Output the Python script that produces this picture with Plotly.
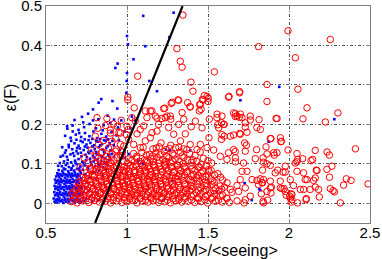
import plotly.graph_objects as go

# blue points (x, y)
blue_pts = [
    (0.553,0.004),(0.571,0.002),(0.589,0.005),(0.607,0.001),(0.624,0.004),(0.642,0.003),(0.661,0.006),(0.679,0.002),(0.698,0.004),(0.716,0.003),(0.735,0.005),
    (0.548,0.012),(0.566,0.010),(0.583,0.013),(0.601,0.009),(0.619,0.012),(0.637,0.011),(0.655,0.014),(0.673,0.010),(0.691,0.012),(0.709,0.009),(0.727,0.013),
    (0.556,0.020),(0.574,0.018),(0.592,0.021),(0.610,0.017),(0.628,0.020),(0.646,0.019),(0.664,0.022),(0.682,0.018),(0.700,0.020),(0.719,0.021),
    (0.551,0.028),(0.569,0.026),(0.587,0.029),(0.605,0.025),(0.623,0.028),(0.641,0.027),(0.659,0.030),(0.677,0.026),(0.695,0.028),(0.713,0.025),(0.731,0.029),
    (0.558,0.036),(0.576,0.034),(0.594,0.037),(0.612,0.033),(0.630,0.036),(0.648,0.035),(0.666,0.038),(0.684,0.034),(0.702,0.036),(0.720,0.037),
    (0.553,0.044),(0.571,0.042),(0.589,0.045),(0.607,0.041),(0.625,0.044),(0.643,0.043),(0.661,0.046),(0.679,0.042),(0.697,0.044),(0.715,0.041),
    (0.560,0.052),(0.578,0.050),(0.596,0.053),(0.614,0.049),(0.632,0.052),(0.650,0.051),(0.668,0.054),(0.686,0.050),(0.704,0.052),
    (0.556,0.060),(0.574,0.058),(0.592,0.061),(0.610,0.057),(0.628,0.060),(0.646,0.059),(0.664,0.062),(0.682,0.058),(0.700,0.060),(0.718,0.063),
    (0.563,0.068),(0.581,0.066),(0.599,0.069),(0.617,0.065),(0.635,0.068),(0.653,0.067),(0.671,0.070),(0.689,0.066),(0.707,0.069),
    (0.570,0.076),(0.588,0.074),(0.606,0.077),(0.624,0.073),(0.642,0.076),(0.660,0.075),(0.678,0.078),(0.696,0.074),(0.714,0.077),
    (0.578,0.084),(0.601,0.082),(0.619,0.086),(0.637,0.081),(0.655,0.085),(0.673,0.083),(0.691,0.087),(0.709,0.082),(0.727,0.085),
    (0.562,0.007),(0.580,0.008),(0.598,0.006),(0.616,0.008),(0.634,0.007),(0.652,0.009),(0.670,0.007),(0.688,0.008),(0.706,0.006),
    (0.565,0.023),(0.583,0.024),(0.601,0.022),(0.619,0.024),(0.637,0.023),(0.655,0.025),(0.673,0.023),(0.691,0.024),(0.709,0.022),
    (0.562,0.039),(0.580,0.040),(0.598,0.039),(0.616,0.041),(0.634,0.039),(0.652,0.040),(0.670,0.042),(0.688,0.039),(0.706,0.040),
    (0.567,0.056),(0.585,0.055),(0.603,0.057),(0.621,0.055),(0.639,0.056),(0.657,0.054),(0.675,0.056),(0.693,0.055),
    (0.574,0.072),(0.592,0.071),(0.610,0.073),(0.628,0.071),(0.646,0.072),(0.664,0.070),(0.682,0.072),(0.700,0.071),
    (0.598,0.094),(0.622,0.097),(0.641,0.092),(0.668,0.095),(0.689,0.099),(0.712,0.093),(0.738,0.096),(0.757,0.091),(0.781,0.098),(0.803,0.094),(0.829,0.097),(0.852,0.092),(0.874,0.099),
    (0.611,0.106),(0.634,0.110),(0.655,0.104),(0.679,0.108),(0.701,0.112),(0.724,0.105),(0.747,0.109),(0.772,0.113),(0.795,0.106),(0.818,0.111),(0.841,0.107),(0.866,0.114),(0.889,0.109),
    (0.605,0.121),(0.629,0.118),(0.651,0.124),(0.674,0.120),(0.697,0.126),(0.719,0.119),(0.744,0.123),(0.766,0.127),(0.790,0.121),(0.812,0.125),(0.838,0.120),(0.861,0.128),(0.884,0.123),
    (0.623,0.134),(0.662,0.137),(0.688,0.132),(0.709,0.139),(0.733,0.135),(0.756,0.141),(0.778,0.133),(0.801,0.138),(0.826,0.142),(0.849,0.136),(0.872,0.140),(0.898,0.134),
    (0.640,0.148),(0.676,0.152),(0.701,0.146),(0.727,0.155),(0.750,0.149),(0.774,0.153),(0.797,0.147),(0.822,0.156),(0.846,0.150),(0.869,0.158),(0.893,0.152),(0.918,0.147),
    (0.585,0.102),(0.610,0.088),(0.632,0.101),(0.658,0.089),(0.682,0.103),(0.705,0.088),(0.731,0.102),(0.752,0.117),(0.776,0.104),(0.800,0.116),
    (0.822,0.102),(0.847,0.118),(0.868,0.104),(0.893,0.118),(0.617,0.128),(0.641,0.142),(0.667,0.127),(0.692,0.140),(0.716,0.128),(0.740,0.144),
    (0.762,0.130),(0.786,0.144),(0.810,0.130),(0.834,0.147),(0.858,0.131),(0.882,0.145),(0.905,0.125),(0.655,0.158),(0.688,0.161),(0.714,0.158),
    (0.739,0.162),(0.763,0.160),(0.786,0.163),(0.810,0.158),(0.834,0.163),(0.858,0.160),(0.882,0.162),(0.910,0.158),(0.600,0.142),(0.590,0.118),
    (0.575,0.095),(0.705,0.178),(0.730,0.205),(0.790,0.210),(0.850,0.185),(0.920,0.212),(0.665,0.182),(0.950,0.160),(0.955,0.135),(0.920,0.118),
    (0.745,0.012),(0.762,0.031),(0.779,0.018),(0.797,0.044),(0.814,0.027),(0.751,0.052),(0.772,0.065),(0.791,0.078),(0.808,0.061),(0.826,0.083),
    (0.743,0.074),(0.760,0.088),(0.835,0.049),(0.852,0.071),(0.869,0.086),(0.748,0.038),(0.786,0.006),(0.823,0.009),
    (0.618,0.171),(0.652,0.166),(0.684,0.174),(0.717,0.168),(0.741,0.178),(0.768,0.170),(0.793,0.182),(0.815,0.165),(0.842,0.176),(0.871,0.169),
    (0.905,0.181),(0.935,0.172),(0.632,0.189),(0.664,0.197),(0.701,0.186),(0.735,0.193),(0.769,0.201),(0.808,0.190),(0.856,0.198),(0.897,0.204),
    (0.944,0.192),(0.630,0.195),(0.676,0.211),(0.722,0.219),(0.760,0.227),(0.823,0.213),(0.881,0.222),(0.965,0.210),(0.985,0.182),
    (0.790,0.238),(0.825,0.255),(0.841,0.264),(0.910,0.259),(0.940,0.240),(0.928,0.343),(0.942,0.354),(1.000,0.424),(1.006,0.403),(1.040,0.365),
    (1.100,0.475),(1.113,0.398),(1.000,0.330),(0.998,0.310),(0.996,0.280),(1.138,0.310),(1.185,0.284),(1.288,0.483),(1.261,0.421),(1.700,0.261),
    (1.940,0.295),(1.874,0.156),(2.280,0.213),(1.816,0.036),(1.770,0.008),(1.555,0.029),(1.263,0.134),(1.390,0.134),(1.823,0.033),(1.030,0.220),
    (1.090,0.102),(1.100,0.100),(1.070,0.108),(1.240,0.136),(1.278,0.056),(1.225,0.008),(0.985,0.115),(1.010,0.125),(1.050,0.210),(1.020,0.190),
    (1.726,0.051),
]

# red circles (x, y)
red_pts = [
    (0.655,0.004),(0.692,0.001),(0.728,0.006),(0.764,0.002),(0.797,0.007),(0.831,0.003),(0.866,0.005),(0.899,0.001),(0.934,0.006),(0.968,0.002),
    (1.001,0.004),(1.034,0.007),(1.062,0.001),(1.097,0.005),(1.129,0.003),(1.161,0.006),(1.196,0.002),(1.232,0.004),(1.268,0.001),(1.301,0.006),
    (1.338,0.003),(1.376,0.005),(1.418,0.002),(1.457,0.004),(1.498,0.001),(1.546,0.005),(1.588,0.003),(1.632,0.002),(1.679,0.006),(1.723,0.001),
    (0.683,0.017),(0.716,0.014),(0.748,0.019),(0.786,0.015),(0.818,0.018),(0.849,0.013),(0.884,0.017),(0.917,0.015),(0.951,0.019),(0.983,0.014),
    (1.014,0.016),(1.047,0.019),(1.081,0.013),(1.113,0.017),(1.146,0.015),(1.179,0.018),(1.213,0.014),(1.247,0.017),(1.283,0.019),(1.318,0.013),
    (1.356,0.016),(1.397,0.018),(1.438,0.014),(1.484,0.017),(1.528,0.015),(1.575,0.019),(1.617,0.012),
    (0.668,0.029),(0.704,0.027),(0.737,0.031),(0.771,0.026),(0.806,0.030),(0.838,0.028),(0.869,0.032),(0.903,0.026),(0.937,0.029),(0.969,0.031),
    (1.003,0.027),(1.031,0.030),(1.066,0.026),(1.098,0.031),(1.132,0.028),(1.168,0.025),(1.199,0.030),(1.234,0.027),(1.271,0.031),(1.307,0.026),
    (1.346,0.029),(1.387,0.032),(1.428,0.027),(1.471,0.030),(1.516,0.026),(1.566,0.031),(1.648,0.028),
    (0.692,0.041),(0.726,0.039),(0.758,0.043),(0.792,0.038),(0.826,0.042),(0.857,0.040),(0.889,0.044),(0.921,0.038),(0.955,0.041),(0.988,0.043),
    (1.019,0.039),(1.052,0.042),(1.086,0.037),(1.117,0.041),(1.151,0.044),(1.186,0.039),(1.219,0.042),(1.256,0.038),(1.292,0.043),(1.329,0.040),
    (1.368,0.037),(1.409,0.042),(1.456,0.039),(1.497,0.044),(1.547,0.038),(1.601,0.041),
    (0.701,0.053),(0.741,0.050),(0.776,0.054),(0.808,0.051),(0.842,0.055),(0.876,0.049),(0.908,0.053),(0.939,0.056),(0.972,0.050),(1.006,0.054),
    (1.038,0.051),(1.071,0.055),(1.104,0.049),(1.138,0.053),(1.172,0.056),(1.207,0.050),(1.241,0.054),(1.277,0.051),(1.316,0.055),(1.357,0.049),
    (1.398,0.053),(1.447,0.056),(1.489,0.050),(1.538,0.054),(1.618,0.052),
    (0.722,0.065),(0.761,0.062),(0.797,0.067),(0.829,0.063),(0.861,0.066),(0.896,0.061),(0.928,0.065),(0.962,0.068),(0.996,0.062),(1.027,0.066),
    (1.059,0.063),(1.092,0.067),(1.127,0.061),(1.159,0.065),(1.192,0.068),(1.228,0.062),(1.262,0.066),(1.298,0.063),(1.338,0.067),(1.379,0.061),
    (1.427,0.065),(1.468,0.068),(1.519,0.062),(1.578,0.066),
    (0.748,0.077),(0.787,0.074),(0.821,0.079),(0.858,0.075),(0.889,0.078),(0.921,0.073),(0.953,0.077),(0.987,0.080),(1.018,0.074),(1.049,0.078),
    (1.082,0.075),(1.118,0.079),(1.149,0.073),(1.181,0.077),(1.216,0.080),(1.252,0.074),(1.288,0.078),(1.327,0.075),(1.368,0.079),(1.412,0.073),
    (1.458,0.077),(1.507,0.080),(1.561,0.075),
    (0.772,0.089),(0.812,0.086),(0.848,0.091),(0.883,0.087),(0.918,0.090),(0.957,0.085),(0.998,0.089),(1.038,0.092),(1.076,0.086),(1.108,0.090),
    (1.139,0.087),(1.171,0.091),(1.207,0.085),(1.241,0.089),(1.279,0.092),(1.318,0.086),(1.359,0.090),(1.401,0.087),(1.449,0.091),(1.502,0.085),
    (0.801,0.101),(0.853,0.098),(0.902,0.103),(0.948,0.099),(1.003,0.102),(1.051,0.097),(1.089,0.101),(1.126,0.104),(1.162,0.098),(1.198,0.102),
    (1.232,0.099),(1.269,0.103),(1.308,0.097),(1.348,0.101),(1.397,0.104),(1.458,0.098),(1.523,0.102),
    (0.824,0.114),(0.881,0.111),(0.938,0.116),(1.012,0.112),(1.058,0.115),(1.108,0.110),(1.147,0.114),(1.186,0.117),(1.221,0.111),(1.258,0.115),
    (1.297,0.112),(1.351,0.116),(1.408,0.110),(1.471,0.114),
    (0.842,0.128),(0.908,0.125),(0.972,0.130),(1.041,0.126),(1.092,0.129),(1.139,0.124),(1.178,0.128),(1.229,0.131),(1.282,0.125),(1.331,0.129),
    (1.387,0.126),(1.452,0.130),
    # second, offset layer of the dense core
    (0.675,0.010),(0.710,0.008),(0.745,0.011),(0.780,0.009),(0.815,0.012),(0.850,0.008),(0.882,0.011),(0.915,0.009),(0.950,0.012),(0.985,0.008),
    (1.018,0.011),(1.050,0.009),(1.082,0.012),(1.115,0.008),(1.148,0.011),(1.180,0.009),(1.214,0.012),(1.250,0.008),(1.285,0.011),(1.320,0.009),
    (1.357,0.012),(1.398,0.008),(1.440,0.011),(1.480,0.009),(1.520,0.012),(1.565,0.008),
    (0.660,0.022),(0.698,0.024),(0.732,0.021),(0.766,0.023),(0.800,0.020),(0.834,0.024),(0.868,0.021),(0.900,0.023),(0.934,0.020),(0.966,0.024),
    (0.998,0.021),(1.028,0.023),(1.060,0.020),(1.092,0.024),(1.125,0.021),(1.158,0.023),(1.190,0.020),(1.225,0.024),(1.260,0.021),(1.295,0.023),
    (1.332,0.020),(1.370,0.024),(1.410,0.021),(1.452,0.023),(1.495,0.020),(1.540,0.024),(1.590,0.021),
    (0.686,0.034),(0.720,0.036),(0.754,0.033),(0.788,0.035),(0.822,0.032),(0.854,0.036),(0.886,0.033),(0.918,0.035),(0.952,0.032),(0.985,0.036),
    (1.016,0.033),(1.048,0.035),(1.080,0.032),(1.114,0.036),(1.146,0.033),(1.180,0.035),(1.214,0.032),(1.250,0.036),(1.287,0.033),(1.323,0.035),
    (1.360,0.032),(1.400,0.036),(1.442,0.033),(1.488,0.035),(1.535,0.032),(1.585,0.036),
    (0.710,0.046),(0.745,0.048),(0.780,0.045),(0.814,0.047),(0.846,0.044),(0.878,0.048),(0.910,0.045),(0.944,0.047),(0.977,0.044),(1.010,0.048),
    (1.043,0.045),(1.076,0.047),(1.108,0.044),(1.142,0.048),(1.175,0.045),(1.210,0.047),(1.246,0.044),(1.282,0.048),(1.318,0.045),(1.356,0.047),
    (1.395,0.044),(1.436,0.048),(1.480,0.045),(1.525,0.047),(1.575,0.044),
    (0.735,0.058),(0.770,0.060),(0.806,0.057),(0.840,0.059),(0.872,0.056),(0.905,0.060),(0.938,0.057),(0.970,0.059),(1.003,0.056),(1.036,0.060),
    (1.070,0.057),(1.103,0.059),(1.136,0.056),(1.170,0.060),(1.204,0.057),(1.238,0.059),(1.274,0.056),(1.310,0.060),(1.348,0.057),(1.390,0.059),
    (1.432,0.056),(1.478,0.060),(1.528,0.057),(1.590,0.059),
    (0.760,0.070),(0.800,0.072),(0.836,0.069),(0.872,0.071),(0.905,0.068),(0.940,0.072),(0.974,0.069),(1.008,0.071),(1.040,0.068),(1.074,0.072),
    (1.106,0.069),(1.140,0.071),(1.174,0.068),(1.208,0.072),(1.243,0.069),(1.279,0.071),(1.316,0.068),(1.356,0.072),(1.398,0.069),(1.440,0.071),
    (1.488,0.068),(1.540,0.072),
    (0.790,0.082),(0.830,0.084),(0.868,0.081),(0.904,0.083),(0.940,0.080),(0.976,0.084),(1.012,0.081),(1.046,0.083),(1.080,0.080),(1.114,0.084),
    (1.148,0.081),(1.182,0.083),(1.218,0.080),(1.255,0.084),(1.292,0.081),(1.332,0.083),(1.374,0.080),(1.420,0.084),(1.468,0.081),(1.520,0.083),
    (0.820,0.094),(0.865,0.096),(0.900,0.093),(0.935,0.095),(0.980,0.092),(1.022,0.096),(1.060,0.093),(1.095,0.095),(1.130,0.092),(1.165,0.096),
    (1.200,0.093),(1.235,0.095),(1.272,0.092),(1.312,0.096),(1.352,0.093),(1.395,0.095),(1.440,0.092),(1.490,0.096),
    (0.838,0.107),(0.920,0.108),(0.975,0.106),(1.030,0.109),(1.075,0.106),(1.120,0.108),(1.160,0.105),(1.200,0.109),(1.240,0.106),(1.280,0.108),
    (1.325,0.105),(1.375,0.109),(1.430,0.106),(1.500,0.108),
    (0.960,0.121),(1.060,0.119),(1.120,0.122),(1.160,0.120),(1.205,0.123),(1.245,0.119),(1.290,0.122),(1.340,0.120),(1.420,0.121),
    (1.100,0.141),(1.160,0.138),(1.200,0.143),(1.260,0.139),(1.320,0.142),(1.350,0.138),
    # left of the line, over the blue cloud
    (0.743,0.064),(0.773,0.085),(0.763,0.102),(0.804,0.119),(0.856,0.107),(0.886,0.140),(0.907,0.157),(0.856,0.159),(0.897,0.178),(0.804,0.170),
    (0.825,0.149),(0.846,0.130),(0.876,0.119),(0.710,0.090),(0.735,0.115),(0.780,0.135),(0.820,0.190),(0.868,0.197),(0.940,0.195),(0.930,0.165),
    (0.980,0.145),(0.970,0.120),(0.876,0.215),(0.917,0.201),(0.965,0.210),(0.996,0.174),(0.897,0.102),(0.928,0.132),(0.959,0.178),(1.000,0.195),
    (1.030,0.217),(0.897,0.185),(0.950,0.180),(0.815,0.217),
    # middle band
    (1.008,0.187),(1.051,0.209),(1.062,0.176),(1.082,0.187),(1.103,0.196),(1.123,0.217),(1.154,0.234),(1.185,0.216),(1.216,0.215),(1.247,0.221),
    (1.233,0.241),(1.270,0.213),(1.278,0.256),(1.315,0.262),(1.319,0.200),(1.340,0.230),(1.350,0.213),(1.390,0.245),(1.397,0.194),(1.446,0.234),
    (1.453,0.251),(1.465,0.263),(1.477,0.273),(1.494,0.271),(1.502,0.266),(1.508,0.213),(1.556,0.226),(1.560,0.199),(1.583,0.204),(1.630,0.271),
    (1.658,0.229),(1.668,0.220),(1.700,0.226),(1.693,0.218),(1.695,0.283),(1.730,0.204),(1.761,0.211),(1.802,0.192),(1.815,0.212),(1.864,0.258),
    (1.926,0.215),(1.600,0.170),(1.638,0.170),(1.583,0.162),(1.506,0.166),(1.700,0.175),(1.726,0.153),(1.737,0.147),(1.658,0.136),(1.668,0.131),
    (1.800,0.136),(1.858,0.143),(1.885,0.164),(1.947,0.166),(1.953,0.157),(1.905,0.128),(1.909,0.122),(1.576,0.119),(1.535,0.135),(1.494,0.141),
    (1.453,0.149),(1.432,0.136),(1.390,0.149),(1.370,0.136),(1.330,0.158),(1.300,0.141),(1.270,0.147),(1.240,0.136),(1.210,0.153),(1.180,0.140),
    (1.144,0.166),(1.113,0.158),(1.082,0.141),(1.041,0.149),(1.010,0.162),(0.960,0.149),(0.934,0.136),(1.185,0.183),(1.154,0.179),(1.257,0.192),
    (1.288,0.175),(1.360,0.176),(1.195,0.200),(1.005,0.269),(1.005,0.262),(1.066,0.322),(1.045,0.242),(1.113,0.234),(1.144,0.234),(1.226,0.240),
    (1.236,0.217),(1.175,0.221),(1.267,0.221),(1.422,0.208),(1.463,0.191),(1.566,0.191),(1.600,0.200),(1.741,0.180),(1.823,0.187),(1.555,0.217),
    (1.586,0.221),(1.710,0.217),(1.761,0.221),
    # right, sparse
    (2.111,0.242),(2.302,0.229),(1.920,0.215),(2.086,0.214),(2.224,0.206),(1.889,0.164),(1.950,0.156),(2.410,0.138),(1.994,0.135),(2.235,0.130),
    (2.249,0.122),(2.049,0.126),(2.053,0.111),(1.840,0.115),(2.084,0.113),(2.146,0.111),(2.049,0.105),(1.864,0.100),(1.885,0.096),(2.265,0.094),
    (2.234,0.086),(1.837,0.084),(1.930,0.084),(2.168,0.084),(1.963,0.079),(1.977,0.079),(2.090,0.077),(2.250,0.066),(2.162,0.064),(2.152,0.058),
    (2.111,0.060),(2.008,0.060),(2.354,0.062),(2.383,0.058),(2.488,0.049),(1.843,0.060),(1.885,0.056),(1.837,0.052),(2.337,0.046),(2.028,0.045),
    (1.946,0.039),(1.970,0.037),(1.891,0.041),(2.090,0.035),(2.131,0.035),(2.183,0.035),(2.162,0.041),(2.255,0.037),(2.272,0.032),(2.280,0.029),
    (1.829,0.024),(1.889,0.026),(1.983,0.020),(2.004,0.018),(2.018,0.022),(2.187,0.016),(2.105,0.009),(1.868,0.008),(2.014,0.003),(2.053,0.001),
    (2.317,0.001),(1.843,0.001),
    (1.669,0.227),(1.679,0.221),(1.596,0.200),(1.730,0.193),(1.586,0.174),(1.658,0.173),(1.695,0.177),(1.730,0.132),(1.864,0.125),(1.926,0.128),
    (2.162,0.134),(1.627,0.128),(1.617,0.111),(1.669,0.115),(1.669,0.105),(2.039,0.102),(2.136,0.108),(1.792,0.113),(1.843,0.104),(1.720,0.102),
    (1.977,0.094),(1.741,0.081),(1.710,0.081),(1.915,0.077),(2.049,0.081),(2.173,0.083),(2.100,0.060),(1.772,0.060),(1.802,0.058),(1.823,0.062),
    (1.833,0.052),(1.812,0.047),(1.946,0.056),(1.957,0.037),(1.977,0.030),(2.014,0.024),(2.008,0.013),(1.699,0.060),(1.679,0.045),(1.638,0.035),
    (1.689,0.030),(1.730,0.039),(1.730,0.009),(1.761,0.018),(1.617,0.013),(1.885,0.039),(1.864,0.030),(2.070,0.035),(1.840,0.005),(2.018,0.009),
    (2.107,0.012),
    # top outliers
    (1.345,0.477),(1.308,0.392),(1.329,0.360),(1.340,0.345),(1.539,0.333),(1.395,0.307),(1.407,0.284),(1.812,0.397),(1.864,0.301),(1.695,0.280),
    (1.627,0.269),(1.470,0.262),(1.500,0.258),(1.319,0.261),(1.273,0.253),(1.374,0.255),(1.390,0.244),(1.448,0.250),(1.457,0.238),(1.994,0.437),
    (2.255,0.415),(2.039,0.369),(2.055,0.289),
]

# separating line
line_x = [0.803, 1.343]
line_y = [-0.05, 0.5]

x_ticks = [0.5, 1, 1.5, 2, 2.5]
y_ticks = [0, 0.1, 0.2, 0.3, 0.4, 0.5]

fig = go.Figure()

fig.add_trace(go.Scatter(x=[p[0] for p in blue_pts], y=[p[1] for p in blue_pts], mode='markers',
                         marker=dict(color='blue', size=2.6, symbol='square', line=dict(width=0))))
fig.add_trace(go.Scatter(x=[p[0] for p in red_pts], y=[p[1] for p in red_pts], mode='markers',
                         marker=dict(color='red', size=6.5, symbol='circle-open', line=dict(width=1))))
fig.add_trace(go.Scatter(x=line_x, y=line_y, mode='lines', line=dict(color='black', width=2.2)))

axis_style = dict(showline=True, linecolor='#7f7f7f', linewidth=1, mirror='ticks',
                  ticks='inside', ticklen=4, tickcolor='#7f7f7f', automargin=False,
                  showgrid=True, gridcolor='#555555', gridwidth=1, griddash='3px,2px,1px,2px',
                  zeroline=False, ticklabeloverflow='allow', tickfont=dict(size=15, color='black'))

fig.update_xaxes(range=[0.5, 2.5], tickvals=x_ticks, ticklabelstandoff=-4, **axis_style)
fig.update_yaxes(range=[-0.05, 0.5], tickvals=y_ticks, **axis_style)

# axis titles as annotations so they sit where the original puts them
fig.add_annotation(text='&lt;FWHM&gt;/&lt;seeing&gt;', xref='paper', yref='paper', x=0.5, y=-0.125,
                   yanchor='middle', showarrow=False, font=dict(size=16, color='black'))
fig.add_annotation(text='ε(F)', xref='paper', yref='paper', x=-0.111, y=0.58, textangle=-90,
                   xanchor='center', yanchor='middle', showarrow=False, font=dict(size=16, color='black'))

fig.update_layout(width=382, height=259, margin=dict(l=46, r=12, t=6, b=36),
                  plot_bgcolor='white', paper_bgcolor='white', showlegend=False,
                  font=dict(family='Liberation Sans, Arial, sans-serif', color='black'))

# page body has a default margin; drop it so the figure sits at the window corner
fig.write_html("out.html", config={'displayModeBar': False},
               post_script="document.body.style.margin='0px';")
